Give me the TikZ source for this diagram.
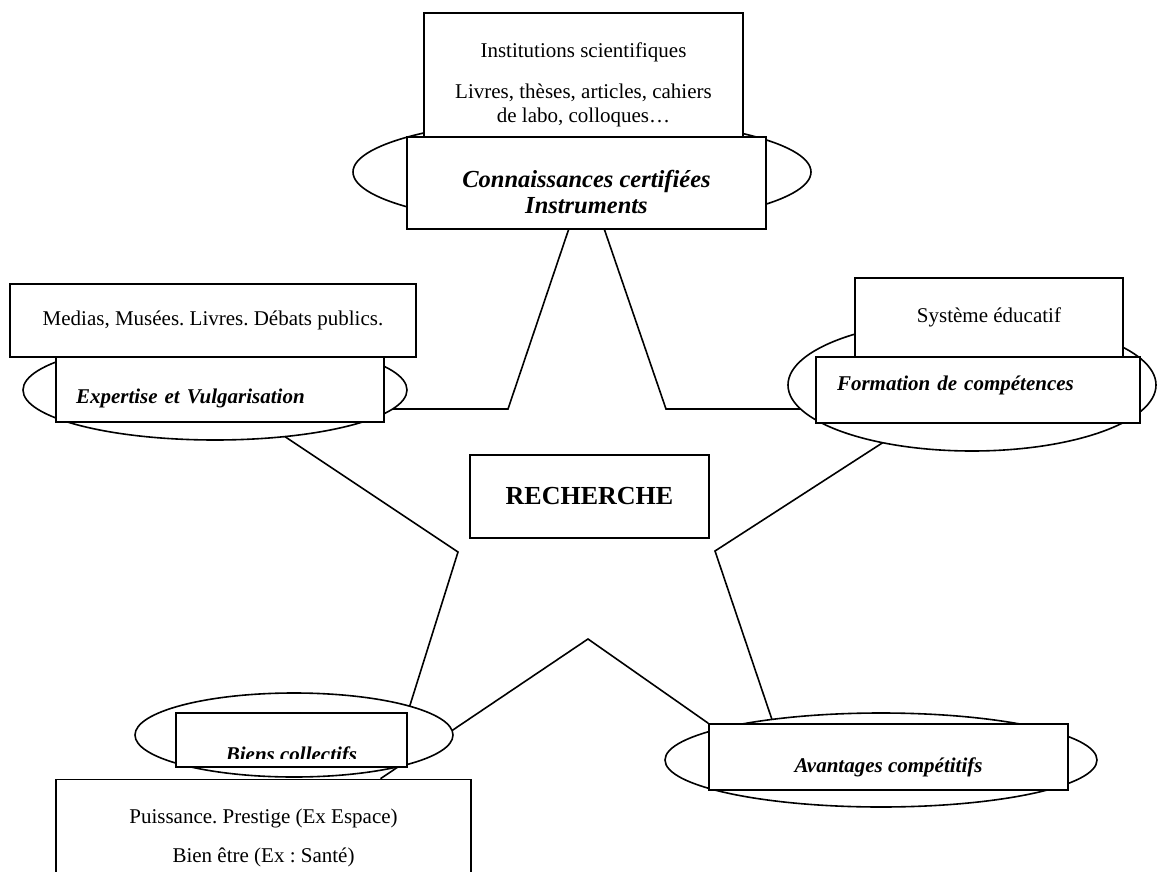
\documentclass[tikz,border=0pt]{standalone}
\usepackage{fontspec}
\setmainfont{Liberation Serif}
\usetikzlibrary{shapes, backgrounds}
\frenchspacing

\begin{document}
\begin{tikzpicture}[x=1pt, y=-1pt,
  box/.style={draw, fill=white, line width=1.6pt, inner sep=0pt, align=center, font=\fontsize{21}{23.5}\selectfont},
  blob/.style={draw, fill=white, ellipse, line width=1.6pt, inner sep=0pt},
  emph/.style={font=\fontsize{21}{23.5}\selectfont\bfseries\itshape},
  spoke/.style={line width=1.6pt}]

  \useasboundingbox (0,0) rectangle (1157,872);
  \clip (0,0) rectangle (1157,872);

  % Blobs behind the boxes
  \node (etop) [blob, minimum width=458pt, minimum height=108pt] at (582,172) {};
  \node (eleft) [blob, minimum width=384pt, minimum height=100pt] at (215,390) {};
  \node (eright) [blob, minimum width=368pt, minimum height=132pt] at (972,385) {};
  \node (ebl) [blob, minimum width=318pt, minimum height=84pt] at (294,735) {};
  \node (ebr) [blob, minimum width=432pt, minimum height=94pt] at (881,760) {};

  % Top branch
  \node (inst) [box, minimum width=319pt, minimum height=144pt] at (583.5,85) {Institutions scientifiques\\[17.5pt]Livres, thèses, articles, cahiers\\de labo, colloques…};
  \node (conn) [box, font=\fontsize{24.5}{25}\selectfont\bfseries\itshape, minimum width=359pt, minimum height=92pt, text height=60pt, text depth=0pt] at (586.5,183) {Connaissances certifiées\\Instruments};

  % Left branch
  \node (media) [box, minimum width=406pt, minimum height=73pt] at (213,320.5) {Medias, Musées. Livres. Débats publics.};
  \node (exp) [box, emph, minimum width=328pt, minimum height=65pt, text width=288pt, align=left, text height=27pt, text depth=0pt] at (220,389.5) {Expertise et Vulgarisation};

  % Right branch
  \node (sys) [box, minimum width=268pt, minimum height=79pt] at (989,317.5) {Système éducatif};
  \node (form) [box, emph, minimum width=324pt, minimum height=66pt, text width=282pt, align=left, text height=8pt, text depth=8pt] at (978,390) {Formation de compétences};

  % Centre
  \node (rech) [box, font=\fontsize{26}{28}\selectfont\bfseries, minimum width=239pt, minimum height=83pt] at (589.5,496.5) {RECHERCHE};

  % Bottom left branch
  \node (biens) [box, minimum width=231pt, minimum height=54pt] at (291.5,740) {};
  \begin{scope}
    \clip (biens.north west) rectangle ([yshift=9pt]biens.south east);
    \node (bienstxt) [emph, anchor=base, inner sep=0pt] at ([yshift=-21pt]biens.center) {Biens collectifs};
  \end{scope}
  \node (puis) [box, minimum width=415pt, minimum height=117pt] at (263.5,838) {Puissance. Prestige (Ex Espace)\\[15.5pt]Bien être (Ex : Santé)};

  % Bottom right branch
  \node (av) [box, emph, minimum width=359pt, minimum height=66pt, text height=30pt, text depth=0pt] at (888.5,757) {Avantages compétitifs};

  % Star outline
  \coordinate (sB) at (508,409);
  \coordinate (sC) at (666,409);
  \coordinate (sD) at (458,552);
  \coordinate (sE) at (715,551);
  \coordinate (sF) at (588,639);

  \begin{pgfonlayer}{background}
    \draw[spoke] ([xshift=-18pt]conn.south) -- (sB) -- (sB -| exp.east);
    \draw[spoke] ([xshift=18pt]conn.south) -- (sC) -- (sC -| form.west);
    \draw[spoke] (eleft.center) -- (sD) -- (biens.north east);
    \draw[spoke] ([xshift=117pt]puis.north) -- (sF) -- (av.north west);
    \draw[spoke] ([xshift=65pt]av.north west) -- (sE) -- (eright.center);
  \end{pgfonlayer}

\end{tikzpicture}
\end{document}
